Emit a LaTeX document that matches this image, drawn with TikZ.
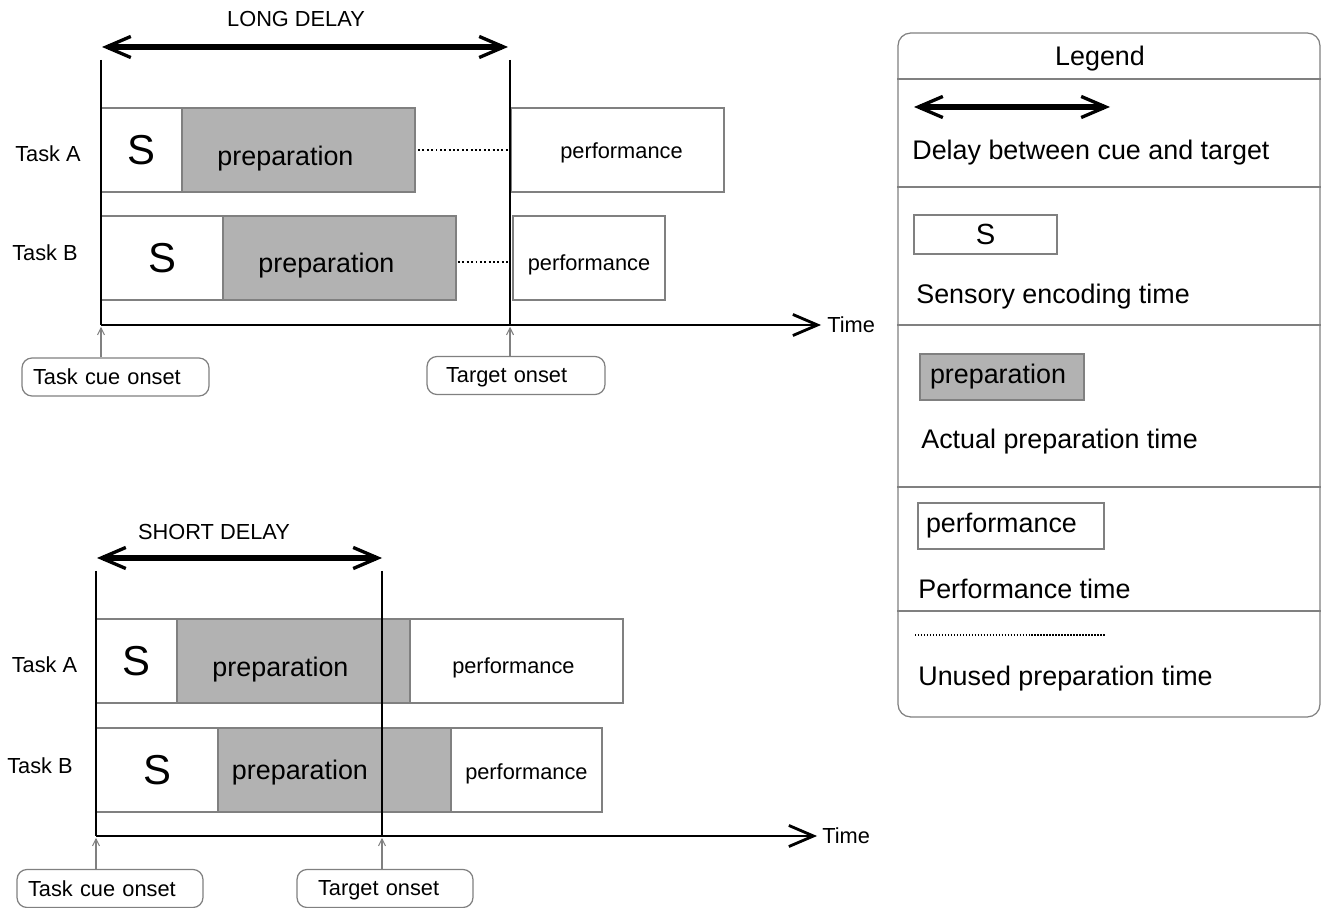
\documentclass[tikz,border=0pt]{standalone}
\usepackage{fontspec}
\setmainfont{Liberation Sans}
\usetikzlibrary{arrows.meta, positioning}

\definecolor{prepgray}{gray}{0.70}
\definecolor{edgegray}{gray}{0.50}

\begin{document}
\begin{tikzpicture}[x=0.02cm, y=-0.02cm]
	\tikzset{
		txt/.style={font=\fontsize{12.4}{14}\selectfont, inner sep=0pt},
		legtxt/.style={font=\fontsize{15.3}{18}\selectfont, inner sep=0pt, anchor=west, yshift=-0.06cm},
		cell/.style={draw=edgegray, line width=0.7pt, minimum height=1.68cm, inner sep=0pt, outer sep=0pt},
		sensory/.style={cell, font=\fontsize{23.8}{26}\selectfont},
		prep/.style={cell, fill=prepgray, minimum width=4.66cm},
		perf/.style={cell},
		preptxt/.style={font=\fontsize{15.3}{18}\selectfont},
		perftxt/.style={font=\fontsize{12.4}{14}\selectfont},
		onset/.style={draw=edgegray, line width=0.7pt, rounded corners=0.2cm, minimum height=0.76cm, text depth=0pt, align=left, font=\fontsize{12.4}{14}\selectfont},
		delay/.style={line width=3pt, >={Straight Barb[length=14pt, width=12pt, line width'=1.9pt]}, <->},
		timeaxis/.style={line width=1.6pt, >={Straight Barb[length=14pt, width=12pt, line width'=1.6pt]}, ->},
		onsetbar/.style={line width=1.6pt},
		cuearrow/.style={draw=edgegray, line width=0.6pt, -{Straight Barb[length=4pt, width=4pt]}, shorten >=1pt},
		unused/.style={line width=1.3pt, dash pattern=on 1.1pt off 1.4pt},
		legunusedline/.style={line width=1.6pt, dash pattern=on 0.8pt off 0.9pt},
		sep/.style={draw=edgegray, line width=0.7pt}
	}
	\useasboundingbox (0,0) rectangle (1322,908);

	% long delay
	\node[txt] (longlbl) at (296,19) {LONG DELAY};
	\coordinate (dlA1) at (102,47);
	\coordinate (dlA2) at (508,47);
	\coordinate (cueA) at (101,60);
	\coordinate (tgtA) at (510,60);
	\coordinate (axA) at (101,325);
	\node[txt, anchor=west] (timeA) at (827,325) {Time};

	\node[txt] (taskA1) at (48,154) {Task A};
	\node[sensory, minimum width=1.62cm, anchor=north west] (sA1) at (101,108) {S};
	\node[prep, right=0pt of sA1, label={[preptxt, xshift=-0.26cm, yshift=-0.17cm]center:preparation}] (pA1) {};
	\node[perf, minimum width=4.26cm, anchor=north west, label={[perftxt, xshift=0.08cm, yshift=-0.05cm]center:performance}] (fA1) at (511,108) {};

	\node[txt] (taskB1) at (45,253) {Task B};
	\node[sensory, minimum width=2.44cm, anchor=north west] (sB1) at (101,216) {S};
	\node[prep, right=0pt of sB1, label={[preptxt, xshift=-0.26cm, yshift=-0.16cm]center:preparation}] (pB1) {};
	\node[perf, minimum width=3.04cm, anchor=north west, label={[perftxt, yshift=-0.13cm]center:performance}] (fB1) at (513,216) {};

	\draw[unused] ([xshift=0.06cm]pA1.east) -- (pA1.east -| tgtA);
	\draw[unused] ([xshift=0.04cm, yshift=-0.08cm]pB1.east) -- ([yshift=-0.08cm]pB1.east -| tgtA);

	\draw[delay] (dlA1) -- (dlA2);
	\draw[onsetbar] (cueA) -- (axA);
	\draw[onsetbar] (tgtA) -- (tgtA |- axA);
	\draw[timeaxis] (axA) -- ([xshift=-0.12cm]timeA.west);

	\node[onset, inner xsep=0.22cm, text width=3.3cm] (cueonA) at (115.5,377) {Task cue onset};
	\node[onset, inner xsep=0.38cm, text width=2.8cm] (tgtonA) at (516,375.5) {Target onset};
	\draw[cuearrow] (cueonA.north -| axA) -- (axA);
	\draw[cuearrow] (tgtonA.north -| tgtA) -- (tgtA |- axA);

	% short delay
	\node[txt] (shortlbl) at (214,532) {SHORT DELAY};
	\coordinate (dlB1) at (97,558);
	\coordinate (dlB2) at (382,558);
	\coordinate (cueB) at (96,571);
	\coordinate (tgtB) at (382,571);
	\coordinate (axB) at (96,836);
	\node[txt, anchor=west] (timeB) at (822,836) {Time};

	\node[txt] (taskA2) at (44.5,665) {Task A};
	\node[sensory, minimum width=1.62cm, anchor=north west] (sA2) at (96,619) {S};
	\node[prep, right=0pt of sA2, label={[preptxt, xshift=-0.26cm, yshift=-0.17cm]center:preparation}] (pA2) {};
	\node[perf, minimum width=4.26cm, right=0pt of pA2, label={[perftxt, xshift=-0.06cm, yshift=-0.14cm]center:performance}] (fA2) {};

	\node[txt] (taskB2) at (40,766) {Task B};
	\node[sensory, minimum width=2.44cm, anchor=north west] (sB2) at (96,728) {S};
	\node[prep, right=0pt of sB2, label={[preptxt, xshift=-0.69cm, yshift=-0.06cm]center:preparation}] (pB2) {};
	\node[perf, minimum width=3.02cm, right=0pt of pB2, label={[perftxt, yshift=-0.08cm]center:performance}] (fB2) {};

	\draw[delay] (dlB1) -- (dlB2);
	\draw[onsetbar] (cueB) -- (axB);
	\draw[onsetbar] (tgtB) -- (tgtB |- axB);
	\draw[timeaxis] (axB) -- ([xshift=-0.1cm]timeB.west);

	\node[onset, inner xsep=0.22cm, text width=3.28cm] (cueonB) at (110,888.5) {Task cue onset};
	\node[onset, inner xsep=0.42cm, text width=2.68cm] (tgtonB) at (385,888.5) {Target onset};
	\draw[cuearrow] (cueonB.north -| axB) -- (axB);
	\draw[cuearrow] (tgtonB.north -| tgtB) -- (tgtB |- axB);

	% legend
	\node[draw=edgegray, line width=0.7pt, rounded corners=0.25cm, minimum width=8.44cm, minimum height=13.68cm, inner sep=0pt] (legend) at (1109,375) {};
	\foreach \y in {79,187,325,487,611}
		\draw[sep] (legend.west |- 0,\y) -- (legend.east |- 0,\y);
	\node[legtxt, anchor=center] (leghead) at (1100,56) {Legend};

	\coordinate (legA1) at (914,107);
	\coordinate (legA2) at (1110,107);
	\draw[delay] (legA1) -- (legA2);
	\node[legtxt] (legdelay) at (912,150) {Delay between cue and target};

	\node[cell, minimum width=2.86cm, minimum height=0.78cm, font=\fontsize{16.6}{18}\selectfont, anchor=north west] (legS) at (914,215) {S};
	\node[legtxt] (legsens) at (916,294) {Sensory encoding time};

	\node[cell, fill=prepgray, minimum height=0.92cm, inner xsep=0.2cm, text width=2.88cm, align=left, font=\fontsize{15.3}{18}\selectfont, anchor=north west] (legP) at (920,354) {preparation};
	\node[legtxt] (legprep) at (921,439) {Actual preparation time};

	\node[cell, minimum height=0.92cm, inner xsep=0.16cm, text width=3.4cm, align=left, font=\fontsize{15.3}{18}\selectfont, anchor=north west] (legF) at (918,503) {performance};
	\node[legtxt] (legperf) at (918,586) {Performance time};

	\coordinate (legU1) at (915,635);
	\coordinate (legU2) at (1105,635);
	\draw[legunusedline] (legU1) -- (legU2);
	\node[legtxt] (legunused) at (918,676) {Unused preparation time};
\end{tikzpicture}
\end{document}
